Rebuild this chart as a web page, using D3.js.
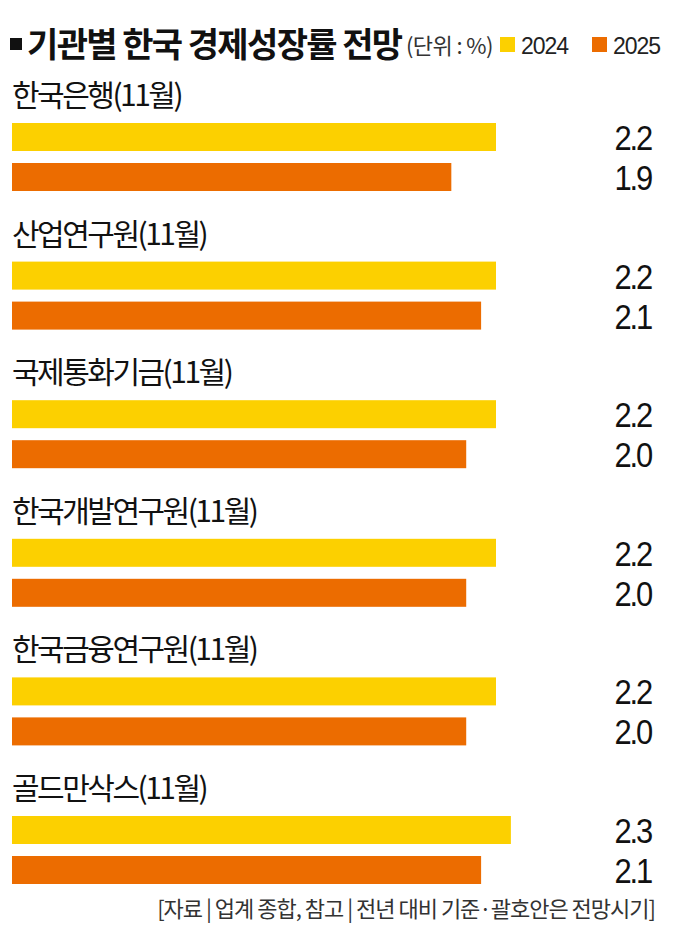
<!DOCTYPE html>
<html><head><meta charset="utf-8">
<script src="https://cdn.jsdelivr.net/npm/d3@7"></script>
<style>
html,body{margin:0;padding:0;background:#fff;}
svg{display:block;}
</style></head>
<body>
<svg id="chart" width="680" height="937"></svg>
<script>
const categories = ["한국은행(11월)", "산업연구원(11월)", "국제통화기금(11월)", "한국개발연구원(11월)", "한국금융연구원(11월)", "골드만삭스(11월)"];
const seriesNames = ["2024", "2025"];
const values2024 = [2.2, 2.2, 2.2, 2.2, 2.2, 2.3];
const values2025 = [1.9, 2.1, 2.0, 2.0, 2.0, 2.1];
const valueLabels2024 = ["2.2", "2.2", "2.2", "2.2", "2.2", "2.3"];
const valueLabels2025 = ["1.9", "2.1", "2.0", "2.0", "2.0", "2.1"];
const titleText = "기관별 한국 경제성장률 전망";
const unitText = "(단위 : %)";
const sourceText = "[자료 | 업계 종합, 참고 | 전년 대비 기준·괄호안은 전망시기]";

const colors = {"2024": "#FCD000", "2025": "#EC6C00"};
const KR = "'Noto Sans CJK KR','Noto Sans',sans-serif";
const NUM = "'Liberation Sans','Noto Sans',sans-serif";

const svg = d3.select("#chart");
svg.append("rect").attr("width", 680).attr("height", 937).attr("fill", "#fff");

// scales
const x = d3.scaleLinear().domain([-1.05, 2.2]).range([12, 496]);
const yGroup = d3.scalePoint().domain(categories).range([123, 816]);
const yInner = d3.scaleBand().domain(seriesNames).range([0, 68]).paddingInner(0.3);

const rows = categories.map((c, i) => ({
  cat: c,
  items: [
    {s: "2024", v: values2024[i], label: valueLabels2024[i]},
    {s: "2025", v: values2025[i], label: valueLabels2025[i]}
  ]
}));

// title
svg.append("rect").attr("x", 10).attr("y", 38).attr("width", 12).attr("height", 12).attr("fill", "#111");
svg.append("text").attr("x", 27).attr("y", 57)
  .attr("font-family", KR).attr("font-weight", 700).attr("font-size", 34)
  .attr("letter-spacing", -1.6).attr("fill", "#111").text(titleText);
svg.append("text").attr("x", 406).attr("y", 54)
  .attr("font-family", KR).attr("font-weight", 400).attr("font-size", 22)
  .attr("letter-spacing", -0.6).attr("fill", "#333").text(unitText);

// legend
const legendX = {"2024": 500, "2025": 592};
seriesNames.forEach(s => {
  svg.append("rect").attr("x", legendX[s]).attr("y", 37).attr("width", 15).attr("height", 15).attr("fill", colors[s]);
  svg.append("text").attr("x", legendX[s] + 21).attr("y", 54)
    .attr("font-family", NUM).attr("font-weight", 400).attr("font-size", 23)
    .attr("letter-spacing", -1).attr("fill", "#222").text(s);
});

// groups
const g = svg.selectAll("g.row").data(rows).join("g")
  .attr("class", "row")
  .attr("transform", d => `translate(0,${yGroup(d.cat)})`);

g.append("text")
  .attr("x", 12).attr("y", -17)
  .attr("font-family", KR).attr("font-weight", 400).attr("font-size", 30)
  .attr("letter-spacing", -2.5).attr("fill", "#111")
  .text(d => d.cat);

g.selectAll("rect.bar").data(d => d.items).join("rect")
  .attr("class", "bar")
  .attr("x", x(-1.05))
  .attr("y", d => yInner(d.s))
  .attr("width", d => x(d.v) - x(-1.05))
  .attr("height", yInner.bandwidth())
  .attr("fill", d => colors[d.s]);

g.selectAll("text.val").data(d => d.items).join("text")
  .attr("class", "val")
  .attr("transform", d => `translate(651,${yInner(d.s) + yInner.bandwidth() / 2 + 13}) scale(0.86,1)`)
  .attr("text-anchor", "end")
  .attr("font-family", NUM).attr("font-size", 36)
  .attr("letter-spacing", -2.5).attr("fill", "#111")
  .text(d => d.label);

// source
svg.append("text").attr("x", 655).attr("y", 917)
  .attr("text-anchor", "end")
  .attr("font-family", KR).attr("font-weight", 400).attr("font-size", 22)
  .attr("letter-spacing", -1).attr("fill", "#333").text(sourceText);
</script>
</body></html>
